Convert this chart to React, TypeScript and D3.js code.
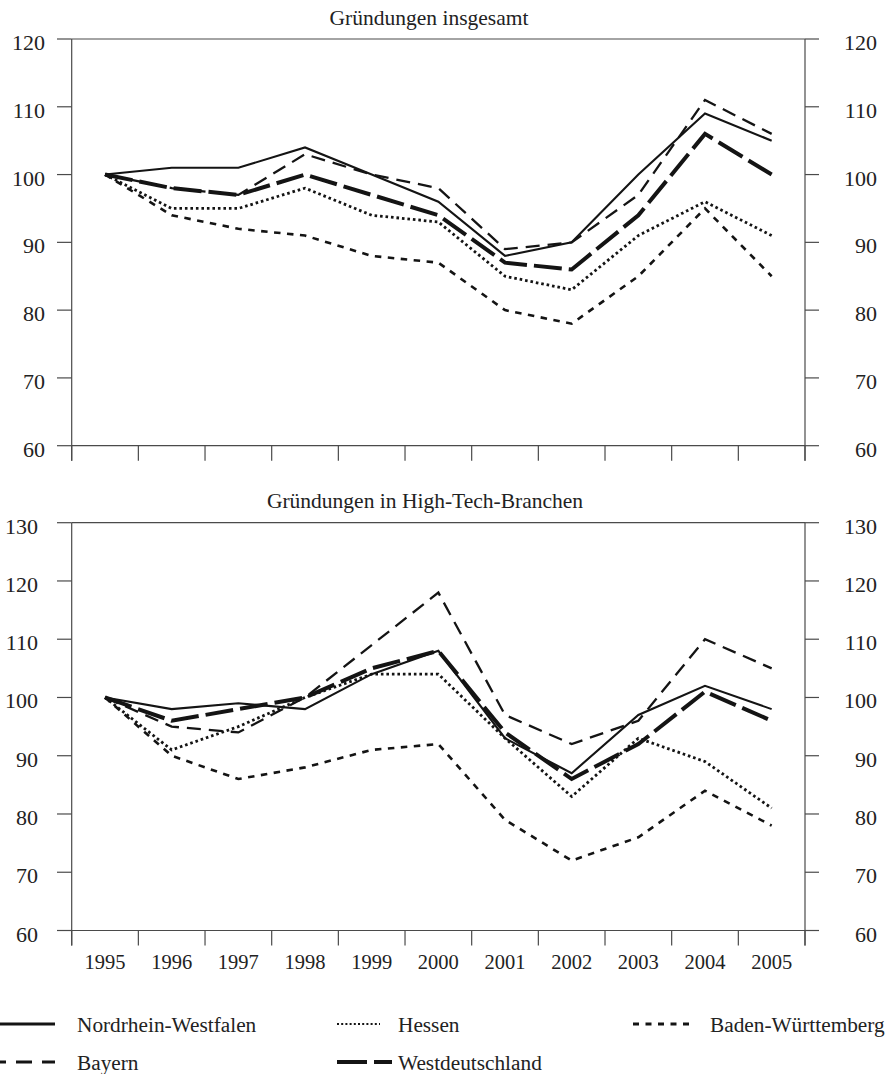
import React from "react";
import * as d3 from "d3";

const years = [1995, 1996, 1997, 1998, 1999, 2000, 2001, 2002, 2003, 2004, 2005];

// Gründungen insgesamt
const totNRW = [100, 101, 101, 104, 100, 96, 88, 90, 100, 109, 105];
const totBayern = [100, 98, 97, 103, 100, 98, 89, 90, 97, 111, 106];
const totHessen = [100, 95, 95, 98, 94, 93, 85, 83, 91, 96, 91];
const totBW = [100, 94, 92, 91, 88, 87, 80, 78, 85, 95, 85];
const totWest = [100, 98, 97, 100, 97, 94, 87, 86, 94, 106, 100];

// Gründungen in High-Tech-Branchen
const htNRW = [100, 98, 99, 98, 104, 108, 93, 87, 97, 102, 98];
const htBayern = [100, 95, 94, 100, 109, 118, 97, 92, 96, 110, 105];
const htHessen = [100, 91, 95, 100, 104, 104, 93, 83, 93, 89, 81];
const htBW = [100, 90, 86, 88, 91, 92, 79, 72, 76, 84, 78];
const htWest = [100, 96, 98, 100, 105, 108, 94, 86, 92, 101, 96];

const topTicks = [60, 70, 80, 90, 100, 110, 120];
const bottomTicks = [60, 70, 80, 90, 100, 110, 120, 130];

const seriesNames = ["Nordrhein-Westfalen", "Bayern", "Hessen", "Westdeutschland", "Baden-Württemberg"];

const styles: Record<string, { w: number; dash: string | null; legendDash: string | null; legendW: number }> = {
  "Nordrhein-Westfalen": { w: 2.1, dash: null, legendDash: null, legendW: 2.8 },
  "Bayern": { w: 2.3, dash: "14,8", legendDash: "16,10", legendW: 3 },
  "Hessen": { w: 2.8, dash: "2.6,2.9", legendDash: "2,2.2", legendW: 2.2 },
  "Baden-Württemberg": { w: 2.6, dash: "6.5,6.5", legendDash: "6,6.5", legendW: 3 },
  "Westdeutschland": { w: 4, dash: "28,7", legendDash: "30,7", legendW: 4 },
};

const FONT = "'Liberation Serif', 'Times New Roman', serif";
const AXIS = "#4a4a4a";
const INK = "#141414";
const TEXT = "#222";

const xLeft = 71.7;
const xRight = 805;
const x = d3.scaleBand<number>().domain(years).range([xLeft, xRight]).paddingInner(0).paddingOuter(0);
const cx = (yr: number) => (x(yr) as number) + x.bandwidth() / 2;

type Panel = {
  title: string;
  titleX: number;
  titleY: number;
  domain: [number, number];
  range: [number, number];
  ticks: number[];
  leftLabelX: number;
  showYears: boolean;
  data: Record<string, number[]>;
};

const panels: Panel[] = [
  {
    title: "Gründungen insgesamt",
    titleX: 429,
    titleY: 24.5,
    domain: [60, 120],
    range: [445.7, 39],
    ticks: topTicks,
    leftLabelX: 45,
    showYears: false,
    data: {
      "Nordrhein-Westfalen": totNRW,
      "Bayern": totBayern,
      "Hessen": totHessen,
      "Baden-Württemberg": totBW,
      "Westdeutschland": totWest,
    },
  },
  {
    title: "Gründungen in High-Tech-Branchen",
    titleX: 425,
    titleY: 508,
    domain: [60, 130],
    range: [930.5, 522.7],
    ticks: bottomTicks,
    leftLabelX: 38,
    showYears: true,
    data: {
      "Nordrhein-Westfalen": htNRW,
      "Bayern": htBayern,
      "Hessen": htHessen,
      "Baden-Württemberg": htBW,
      "Westdeutschland": htWest,
    },
  },
];

function PanelView({ p }: { p: Panel }) {
  const y = d3.scaleLinear().domain(p.domain).range(p.range);
  const yBottom = y(p.domain[0]);
  const yTop = y(p.domain[1]);
  const tickEdges = [...years.map((yr) => x(yr) as number), xRight];
  return (
    <g>
      <text x={p.titleX} y={p.titleY} textAnchor="middle" fontFamily={FONT} fontSize={21.5} fill={TEXT}>
        {p.title}
      </text>
      <line x1={xLeft} x2={xRight} y1={yTop} y2={yTop} stroke={AXIS} strokeWidth={1.2} />
      <line x1={xLeft} x2={xRight} y1={yBottom} y2={yBottom} stroke={AXIS} strokeWidth={1.2} />
      <line x1={xLeft} x2={xLeft} y1={yTop} y2={yBottom + 15} stroke={AXIS} strokeWidth={1.2} />
      <line x1={xRight} x2={xRight} y1={yTop} y2={yBottom + 15} stroke={AXIS} strokeWidth={1.2} />
      {p.ticks.map((t) => (
        <g key={t}>
          <line x1={xLeft - 14.7} x2={xLeft} y1={y(t)} y2={y(t)} stroke={AXIS} strokeWidth={1.2} />
          <line x1={xRight} x2={xRight + 14} y1={y(t)} y2={y(t)} stroke={AXIS} strokeWidth={1.2} />
          <text x={p.leftLabelX} y={y(t) + 11} textAnchor="end" fontFamily={FONT} fontSize={22} fill={TEXT}>
            {t}
          </text>
          <text x={877} y={y(t) + 11} textAnchor="end" fontFamily={FONT} fontSize={22} fill={TEXT}>
            {t}
          </text>
        </g>
      ))}
      {tickEdges.map((tx, i) => (
        <line key={i} x1={tx} x2={tx} y1={yBottom} y2={yBottom + 15} stroke={AXIS} strokeWidth={1.2} />
      ))}
      {p.showYears &&
        years.map((yr) => (
          <text key={yr} x={cx(yr)} y={yBottom + 38.8} textAnchor="middle" fontFamily={FONT} fontSize={20.5} fill={TEXT}>
            {yr}
          </text>
        ))}
      {seriesNames.map((name) => {
        const vals = p.data[name];
        const line = d3
          .line<number>()
          .x((_, i) => cx(years[i]))
          .y((v) => y(v));
        const s = styles[name];
        return (
          <path
            key={name}
            d={line(vals) || ""}
            fill="none"
            stroke={INK}
            strokeWidth={s.w}
            strokeDasharray={s.dash || undefined}
            strokeLinejoin="miter"
            strokeLinecap="butt"
          />
        );
      })}
    </g>
  );
}

const legendItems = [
  { name: "Nordrhein-Westfalen", x0: 0, x1: 55, tx: 77, ly: 1024, ty: 1031.5 },
  { name: "Hessen", x0: 337, x1: 380, tx: 398, ly: 1024, ty: 1031.5 },
  { name: "Baden-Württemberg", x0: 633, x1: 690, tx: 710, ly: 1024, ty: 1031.5 },
  { name: "Bayern", x0: -10, x1: 55, tx: 77, ly: 1062, ty: 1069.5 },
  { name: "Westdeutschland", x0: 337, x1: 392, tx: 398, ly: 1062, ty: 1069.5 },
];

export default function App() {
  return (
    <svg
      width={885}
      height={1074}
      viewBox="0 0 885 1074"
      style={{ position: "absolute", left: 0, top: 0, display: "block", background: "#fff" }}
    >
      <rect x={0} y={0} width={885} height={1074} fill="#fff" />
      {panels.map((p, i) => (
        <PanelView key={i} p={p} />
      ))}
      {legendItems.map((it) => {
        const s = styles[it.name];
        return (
          <g key={it.name}>
            <line
              x1={it.x0}
              x2={it.x1}
              y1={it.ly}
              y2={it.ly}
              stroke={INK}
              strokeWidth={s.legendW}
              strokeDasharray={s.legendDash || undefined}
            />
            <text x={it.tx} y={it.ty} fontFamily={FONT} fontSize={21.3} fill={TEXT}>
              {it.name}
            </text>
          </g>
        );
      })}
    </svg>
  );
}
